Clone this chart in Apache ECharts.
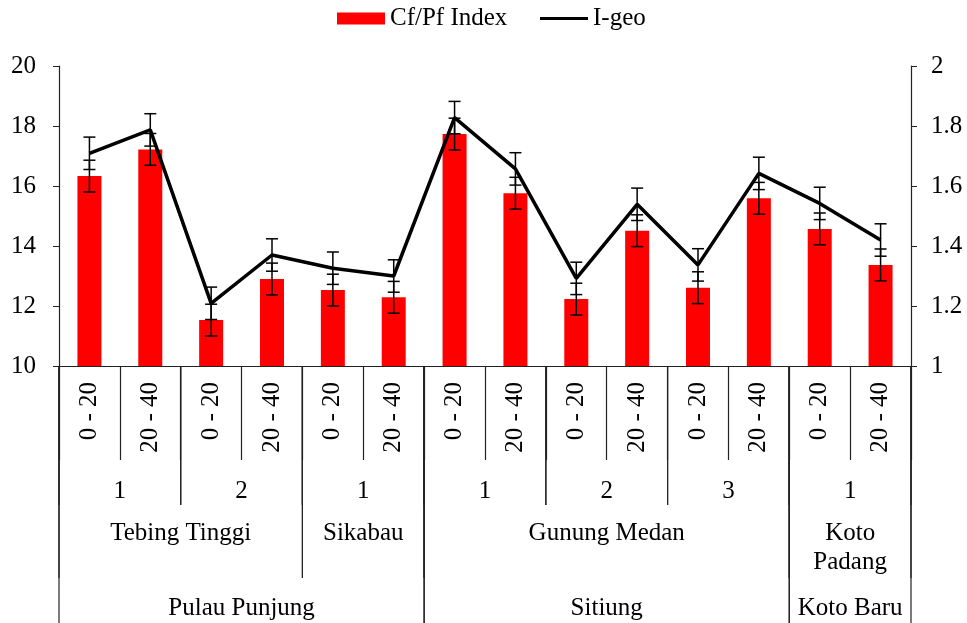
<!DOCTYPE html>
<html>
<head>
<meta charset="utf-8">
<script src="https://cdn.jsdelivr.net/npm/echarts@6/dist/echarts.min.js"></script>
<style>html,body{margin:0;padding:0;background:#fff}#c{width:967px;height:623px}</style>
</head>
<body>
<div id="c"></div>
<script>
// ---- data ----
var depths = ['0 - 20','20 - 40','0 - 20','20 - 40','0 - 20','20 - 40','0 - 20','20 - 40','0 - 20','20 - 40','0 - 20','20 - 40','0 - 20','20 - 40'];
var cfpf = [16.33, 17.22, 11.53, 12.90, 12.53, 12.29, 17.73, 15.76, 12.23, 14.51, 12.61, 15.59, 14.57, 13.37];
var cfpfErr = [0.53, 0.53, 0.53, 0.53, 0.53, 0.53, 0.53, 0.53, 0.53, 0.53, 0.53, 0.53, 0.53, 0.53];
var igeo = [1.709, 1.787, 1.209, 1.370, 1.326, 1.300, 1.828, 1.657, 1.292, 1.539, 1.337, 1.642, 1.542, 1.420];
var igeoErr = [0.054, 0.054, 0.054, 0.054, 0.054, 0.054, 0.054, 0.054, 0.054, 0.054, 0.054, 0.054, 0.054, 0.054];
var subSites = ['1','2','1','1','2','3','1'];
var subSiteSpans = [2,2,2,2,2,2,2];
var sites = ['Tebing Tinggi','Sikabau','Gunung Medan','Koto\nPadang'];
var siteSpans = [4,2,6,2];
var regions = ['Pulau Punjung','Sitiung','Koto Baru'];
var regionSpans = [6,6,2];
var leftTicks = {min:10, max:20, interval:2};
var rightTicks = {min:1, max:2, interval:0.2};

var FONT = '"Liberation Serif","Times New Roman",serif';
var FS = 25;
var AX = '#222';

// hierarchical levels: label offset / separator length below the axis
var levelStyle = [
  {labelDy:125, lineLen:139},
  {labelDy:167, lineLen:212},
  {labelDy:242, lineLen:257}
];
var groups = [];
function addLevel(names, spans, lvl){
  var s = 0;
  for (var i=0;i<names.length;i++){ groups.push({start:s, span:spans[i], level:lvl, text:names[i]}); s += spans[i]; }
}
addLevel(subSites, subSiteSpans, 0);
addLevel(sites, siteSpans, 1);
addLevel(regions, regionSpans, 2);

function errData(vals, errs){ return vals.map(function(v,i){ return [i, v-errs[i], v+errs[i]]; }); }

function errRender(params, api){
  var lo = api.coord([api.value(0), api.value(1)]);
  var hi = api.coord([api.value(0), api.value(2)]);
  var x = lo[0], hw = 6;
  var st = {stroke:'#000', lineWidth:1.5};
  return {type:'group', children:[
    {type:'line', shape:{x1:x, y1:lo[1], x2:x, y2:hi[1]}, style:st},
    {type:'line', shape:{x1:x-hw, y1:lo[1], x2:x+hw, y2:lo[1]}, style:st},
    {type:'line', shape:{x1:x-hw, y1:hi[1], x2:x+hw, y2:hi[1]}, style:st}
  ]};
}

function groupRender(params, api){
  var g = groups[params.dataIndex];
  var ls = levelStyle[g.level];
  var c = api.coord([g.start, leftTicks.min]);
  var w = api.size([1, 0])[0];
  var x0 = c[0] - w/2, x1 = x0 + g.span*w, y0 = c[1];
  var st = {stroke:AX, lineWidth:1.2};
  var lh = 29;
  return {type:'group', children:[
    {type:'line', shape:{x1:x0, y1:y0, x2:x0, y2:y0+ls.lineLen}, style:st},
    {type:'line', shape:{x1:x1, y1:y0, x2:x1, y2:y0+ls.lineLen}, style:st},
    {type:'text', style:{text:g.text, x:(x0+x1)/2, y:y0+ls.labelDy - lh/2, align:'center', verticalAlign:'top',
      fontSize:FS, fontFamily:FONT, fill:'#000', lineHeight:lh}}
  ]};
}

var legendText = {fontSize:FS, fontFamily:FONT, color:'#000'};
var chart = echarts.init(document.getElementById('c'), null, {renderer:'canvas'});
chart.setOption({
  animation:false,
  backgroundColor:'#fff',
  textStyle:{fontFamily:FONT, color:'#000'},
  legend:[
    {left:337, top:6, padding:0, itemWidth:48, itemHeight:12, itemGap:0, textStyle:legendText,
     data:[{name:'Cf/Pf Index', icon:'rect'}]},
    {left:540, top:6, padding:0, itemWidth:48, itemHeight:3, itemGap:0, textStyle:legendText,
     data:[{name:'I-geo', icon:'rect', itemStyle:{color:'#000'}}]}
  ],
  grid:{left:59, right:56, top:66, bottom:257, containLabel:false},
  xAxis:{
    type:'category', data:depths, boundaryGap:true,
    axisLine:{show:true, lineStyle:{color:AX, width:1.2}},
    axisTick:{show:true, interval:0, length:94, alignWithLabel:false, lineStyle:{color:AX, width:1.2}},
    axisLabel:{interval:0, rotate:90, margin:16, fontSize:FS, fontFamily:FONT, color:'#000'},
    splitLine:{show:false}
  },
  yAxis:[
    {type:'value', min:leftTicks.min, max:leftTicks.max, interval:leftTicks.interval,
     axisLine:{show:true, lineStyle:{color:AX, width:1.2}},
     axisTick:{show:true, length:6, lineStyle:{color:AX}},
     axisLabel:{margin:23, fontSize:FS, fontFamily:FONT, color:'#000'},
     splitLine:{show:false}},
    {type:'value', min:rightTicks.min, max:rightTicks.max, interval:rightTicks.interval, position:'right',
     axisLine:{show:true, lineStyle:{color:AX, width:1.2}},
     axisTick:{show:true, length:6, lineStyle:{color:AX}},
     axisLabel:{margin:20, fontSize:FS, fontFamily:FONT, color:'#000'},
     splitLine:{show:false}}
  ],
  series:[
    {name:'Cf/Pf Index', type:'bar', data:cfpf, barWidth:24, itemStyle:{color:'#ff0000'}, z:2},
    {name:'I-geo', type:'line', yAxisIndex:1, data:igeo, symbol:'none', lineStyle:{color:'#000', width:3.5}, itemStyle:{color:'#000'}, z:3},
    {type:'custom', data:errData(cfpf, cfpfErr), renderItem:errRender, yAxisIndex:0, z:5, clip:false, silent:true},
    {type:'custom', data:errData(igeo, igeoErr), renderItem:errRender, yAxisIndex:1, z:5, clip:false, silent:true},
    {type:'custom', data:groups.map(function(g,i){ return [g.start, leftTicks.min, i]; }), renderItem:groupRender, yAxisIndex:0, z:1, clip:false, silent:true}
  ]
});
</script>
</body>
</html>
